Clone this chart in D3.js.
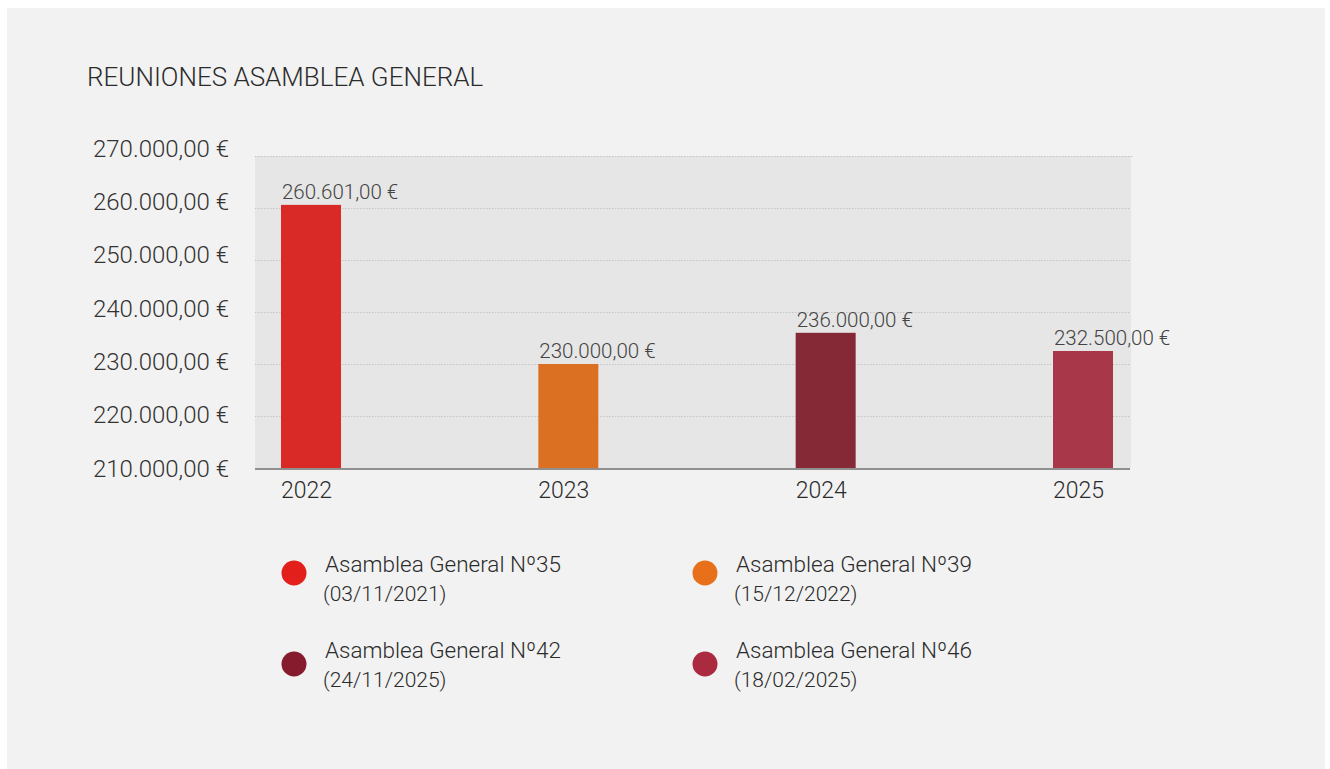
<!DOCTYPE html>
<html>
<head>
<meta charset="utf-8">
<script src="https://cdn.jsdelivr.net/npm/d3@7"></script>
<style>
  html, body { margin: 0; padding: 0; background: #ffffff; }
  svg { display: block; font-family: Roboto, "Noto Sans", sans-serif; }
</style>
</head>
<body>
<div id="chart"></div>
<script>
// Data
const years = ["2022", "2023", "2024", "2025"];
const amounts = [260601, 230000, 236000, 232500];
const barColors = ["#d92a27", "#db6f22", "#862937", "#a8374a"];
const legendNames = ["Asamblea General Nº35", "Asamblea General Nº39", "Asamblea General Nº42", "Asamblea General Nº46"];
const legendDates = ["(03/11/2021)", "(15/12/2022)", "(24/11/2025)", "(18/02/2025)"];
const legendColors = ["#e21f1a", "#e8701a", "#861b2e", "#ab2a40"];
const yTicks = [210000, 220000, 230000, 240000, 250000, 260000, 270000];

const W = 1330, H = 769;

// Spanish style currency: 260.601,00 €
const euro = d3.formatLocale({
    decimal: ",",
    thousands: ".",
    grouping: [3],
    currency: ["", " €"]
}).format("$,.2f");

const svg = d3.select("#chart")
    .append("svg")
    .attr("width", W)
    .attr("height", H);

// Panel background
svg.append("rect")
    .attr("x", 7)
    .attr("y", 8)
    .attr("width", 1318)
    .attr("height", 761)
    .attr("fill", "#f2f2f2");

// Title
svg.append("text")
    .attr("x", 87)
    .attr("y", 86)
    .style("font-size", "26px")
    .style("font-weight", 300)
    .style("fill", "#2b2b2b")
    .text("REUNIONES ASAMBLEA GENERAL");

// Plot area
const plot = { left: 255, right: 1131, top: 156, bottom: 468 };

const y = d3.scaleLinear()
    .domain([210000, 270000])
    .range([plot.bottom, plot.top]);

// tick labels sit on their own slightly wider spacing
const yLabel = d3.scaleLinear()
    .domain([210000, 270000])
    .range([476, 156]);

const x = d3.scalePoint()
    .domain(years)
    .range([311, 1083]);

const barWidth = 60;

svg.append("rect")
    .attr("x", plot.left)
    .attr("y", plot.top)
    .attr("width", plot.right - plot.left)
    .attr("height", plot.bottom - plot.top)
    .attr("fill", "#e6e6e6");

// Dotted gridlines
svg.append("g")
    .selectAll("line")
    .data(yTicks.slice(1))
    .join("line")
    .attr("x1", plot.left)
    .attr("x2", (d, i) => i === yTicks.length - 2 ? plot.right + 3 : plot.right)
    .attr("y1", d => Math.round(y(d)) + 0.5)
    .attr("y2", d => Math.round(y(d)) + 0.5)
    .style("stroke", "#c4c4c4")
    .style("stroke-width", 1)
    .style("stroke-dasharray", "1.5,1.5");

// Y axis labels
const yAxis = svg.append("g")
    .attr("transform", "translate(229,0)")
    .call(d3.axisLeft(y).tickValues(yTicks).tickSize(0).tickPadding(0).tickFormat(euro));

yAxis.select(".domain").remove();
yAxis.selectAll(".tick text")
    .attr("y", d => yLabel(d) - y(d))
    .attr("dy", 0)
    .style("font-family", "Roboto, sans-serif")
    .style("font-size", "24px")
    .style("font-weight", 300)
    .style("fill", "#333333");

// Bars
const data = years.map((yr, i) => ({ year: yr, value: amounts[i], color: barColors[i] }));

svg.append("g")
    .selectAll("rect")
    .data(data)
    .join("rect")
    .attr("x", d => x(d.year) - barWidth / 2)
    .attr("y", d => y(d.value))
    .attr("width", barWidth)
    .attr("height", d => plot.bottom - y(d.value))
    .attr("fill", d => d.color);

// Value labels
svg.append("g")
    .selectAll("text")
    .data(data)
    .join("text")
    .attr("x", d => x(d.year) - barWidth / 2 + 1)
    .attr("y", d => y(d.value) - 6)
    .style("font-size", "20.5px")
    .style("font-weight", 300)
    .style("fill", "#444444")
    .text(d => euro(d.value));

// Baseline
svg.append("line")
    .attr("x1", plot.left)
    .attr("x2", plot.right - 1)
    .attr("y1", plot.bottom + 1)
    .attr("y2", plot.bottom + 1)
    .style("stroke", "#8f8f8f")
    .style("stroke-width", 2);

// X axis labels
const xAxis = svg.append("g")
    .attr("transform", `translate(-5,${plot.bottom})`)
    .call(d3.axisBottom(x).tickSize(0).tickPadding(0));

xAxis.select(".domain").remove();
xAxis.selectAll(".tick text")
    .attr("y", 30)
    .attr("dy", 0)
    .style("font-family", "Roboto, sans-serif")
    .style("font-size", "23px")
    .style("font-weight", 300)
    .style("fill", "#2b2b2b");

// Legend, two columns by two rows (second row text sits a bit higher than its dot)
const legend = svg.append("g");
legendNames.forEach((name, i) => {
    const col = i % 2;
    const row = Math.floor(i / 2);
    const g = legend.append("g")
        .attr("transform", `translate(${294 + col * 411},${573 + row * 91})`);

    g.append("circle")
        .attr("r", 12.5)
        .attr("fill", legendColors[i]);

    const textShift = row * -5;

    g.append("text")
        .attr("x", 31)
        .attr("y", -1 + textShift)
        .style("font-size", "22.5px")
        .style("font-weight", 300)
        .style("fill", "#2b2b2b")
        .text(name);

    g.append("text")
        .attr("x", 29)
        .attr("y", 28 + textShift)
        .style("font-size", "21px")
        .style("font-weight", 300)
        .style("fill", "#2b2b2b")
        .text(legendDates[i]);
});
</script>
</body>
</html>
